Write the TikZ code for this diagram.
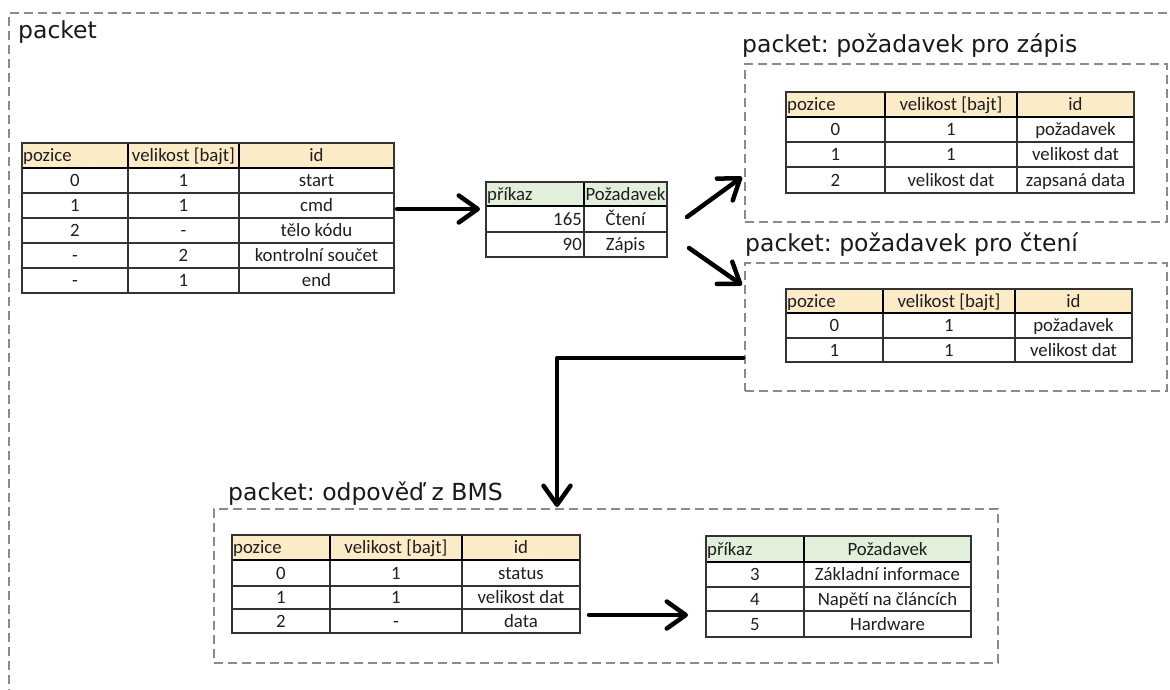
\documentclass[tikz,border=0pt]{standalone}
\usepackage{fontspec}
\setmainfont{Carlito}
\newfontfamily\titlefont{DejaVu Sans}
\usetikzlibrary{arrows.meta,calc}
\definecolor{hdrY}{HTML}{FCEBC7}
\definecolor{hdrG}{HTML}{E2EFDA}
\definecolor{dashgray}{HTML}{8A8A8A}
\frenchspacing
\begin{document}
\begin{tikzpicture}[x=1pt,y=-1pt,
 cell/.style={inner sep=0pt, text height=13.5pt, text depth=1.5pt, font=\fontsize{18.8}{21}\selectfont, text=black!88},
 title/.style={anchor=base west, inner sep=0pt, font=\titlefont\fontsize{23.5}{26}\selectfont, text=black!90},
 region/.style={draw=dashgray, line width=2pt, dash pattern=on 9pt off 5pt, inner sep=0pt, outer sep=0pt, anchor=north west},
 tbl/.style={inner sep=0pt, outer sep=0pt, anchor=north west},
 grid/.style={draw=black!80, line width=1.2pt},
 hdr/.style={draw=black, line width=2pt},
 arr/.style={line width=4.5pt, -{Straight Barb[length=19pt,width=27pt,round]}, line cap=round, line join=round}]
\useasboundingbox (0,0) rectangle (1170,689);
\fill[white] (0,0) rectangle (1170,689);

% regions
\node[region, minimum width=1220pt, minimum height=720pt] (outer) at (9,13) {};
\node[title] (touter) at (18,38) {packet};
\node[region, minimum width=422pt, minimum height=158pt] (zapis) at (745,64) {};
\node[title] (tzapis) at (742,52) {packet: požadavek pro zápis};
\node[region, minimum width=422pt, minimum height=128pt] (cteni) at (745,263) {};
\node[title] (tcteni) at (745,251) {packet: požadavek pro čtení};
\node[region, minimum width=784pt, minimum height=154pt] (bms) at (214,509) {};
\node[title] (tbms) at (228,500) {packet: odpověď z BMS};

% ---------- Table A
\node[tbl, minimum width=372pt, minimum height=150pt] (tA) at (22,143) {};
\fill[hdrY] (22,143) rectangle (394,168);
\draw[grid] (22,193) -- (394,193) (22,218) -- (394,218) (22,243) -- (394,243) (22,268) -- (394,268)
  (128,168) -- (128,293) (239,168) -- (239,293);
\draw[hdr] (22,143) rectangle (394,168) (128,143) -- (128,168) (239,143) -- (239,168);
\draw[grid] (tA.north west) rectangle (tA.south east);
\node[cell, anchor=west] (tA-h1) at (23,155.5) {pozice};
\node[cell] (tA-h2) at (183.5,155.5) {velikost [bajt]};
\node[cell] (tA-h3) at (316.5,155.5) {id};
\foreach \a/\b/\c [count=\i] in {0/1/start,1/1/cmd,2/-/tělo kódu,-/2/kontrolní součet,-/1/end}{
  \node[cell] (tA-\i-a) at (75,{155.5+25*\i}) {\a};
  \node[cell] (tA-\i-b) at (183.5,{155.5+25*\i}) {\b};
  \node[cell] (tA-\i-c) at (316.5,{155.5+25*\i}) {\c};
}

% ---------- Table B
\node[tbl, minimum width=181pt, minimum height=75pt] (tB) at (486,182) {};
\fill[hdrG] (486,182) rectangle (667,206);
\draw[grid] (486,232) -- (667,232) (584,206) -- (584,257);
\draw[hdr] (486,182) rectangle (667,206) (584,182) -- (584,206);
\draw[grid] (tB.north west) rectangle (tB.south east);
\node[cell, anchor=west] (tB-h1) at (487,194) {příkaz};
\node[cell] (tB-h2) at (625.5,194) {Požadavek};
\node[cell, anchor=east] (tB-1-a) at (582,219) {165};
\node[cell] (tB-1-b) at (625.5,219) {Čtení};
\node[cell, anchor=east] (tB-2-a) at (582,244.5) {90};
\node[cell] (tB-2-b) at (625.5,244.5) {Zápis};

% ---------- Table C
\node[tbl, minimum width=348pt, minimum height=101pt] (tC) at (786,92) {};
\fill[hdrY] (786,92) rectangle (1134,117);
\draw[grid] (786,142) -- (1134,142) (786,167) -- (1134,167) (885,117) -- (885,193) (1017,117) -- (1017,193);
\draw[hdr] (786,92) rectangle (1134,117) (885,92) -- (885,117) (1017,92) -- (1017,117);
\draw[grid] (tC.north west) rectangle (tC.south east);
\node[cell, anchor=west] (tC-h1) at (787,104.5) {pozice};
\node[cell] (tC-h2) at (951,104.5) {velikost [bajt]};
\node[cell] (tC-h3) at (1075.5,104.5) {id};
\foreach \a/\b/\c/\y [count=\i] in {0/1/požadavek/129.5,1/1/velikost dat/154.5,2/velikost dat/zapsaná data/180}{
  \node[cell] (tC-\i-a) at (835.5,\y) {\a};
  \node[cell] (tC-\i-b) at (951,\y) {\b};
  \node[cell] (tC-\i-c) at (1075.5,\y) {\c};
}

% ---------- Table D
\node[tbl, minimum width=346pt, minimum height=73pt] (tD) at (786,289) {};
\fill[hdrY] (786,289) rectangle (1132,313);
\draw[grid] (786,338) -- (1132,338) (883,313) -- (883,362) (1015,313) -- (1015,362);
\draw[hdr] (786,289) rectangle (1132,313) (883,289) -- (883,313) (1015,289) -- (1015,313);
\draw[grid] (tD.north west) rectangle (tD.south east);
\node[cell, anchor=west] (tD-h1) at (787,301) {pozice};
\node[cell] (tD-h2) at (949,301) {velikost [bajt]};
\node[cell] (tD-h3) at (1073.5,301) {id};
\foreach \a/\b/\c/\y [count=\i] in {0/1/požadavek/325.5,1/1/velikost dat/350}{
  \node[cell] (tD-\i-a) at (834.5,\y) {\a};
  \node[cell] (tD-\i-b) at (949,\y) {\b};
  \node[cell] (tD-\i-c) at (1073.5,\y) {\c};
}

% ---------- Table E
\node[tbl, minimum width=348pt, minimum height=98pt] (tE) at (232,535) {};
\fill[hdrY] (232,535) rectangle (580,560);
\draw[grid] (232,586) -- (580,586) (232,609) -- (580,609) (330,560) -- (330,633) (462,560) -- (462,633);
\draw[hdr] (232,535) rectangle (580,560) (330,535) -- (330,560) (462,535) -- (462,560);
\draw[grid] (tE.north west) rectangle (tE.south east);
\node[cell, anchor=west] (tE-h1) at (233,547.5) {pozice};
\node[cell] (tE-h2) at (396,547.5) {velikost [bajt]};
\node[cell] (tE-h3) at (521,547.5) {id};
\foreach \a/\b/\c/\y [count=\i] in {0/1/status/573,1/1/velikost dat/597.5,2/-/data/621}{
  \node[cell] (tE-\i-a) at (281,\y) {\a};
  \node[cell] (tE-\i-b) at (396,\y) {\b};
  \node[cell] (tE-\i-c) at (521,\y) {\c};
}

% ---------- Table F
\node[tbl, minimum width=265pt, minimum height=101pt] (tF) at (706,536) {};
\fill[hdrG] (706,536) rectangle (971,562);
\draw[grid] (706,587) -- (971,587) (706,611) -- (971,611) (804,562) -- (804,637);
\draw[hdr] (706,536) rectangle (971,562) (804,536) -- (804,562);
\draw[grid] (tF.north west) rectangle (tF.south east);
\node[cell, anchor=west] (tF-h1) at (707,549) {příkaz};
\node[cell] (tF-h2) at (887.5,549) {Požadavek};
\foreach \a/\b/\y [count=\i] in {3/Základní informace/574.5,4/Napětí na článcích/599,5/Hardware/624}{
  \node[cell] (tF-\i-a) at (755,\y) {\a};
  \node[cell] (tF-\i-b) at (887.5,\y) {\b};
}

% ---------- arrows
\coordinate (a1s) at (397,209);
\draw[arr] (a1s) -- ($(a1s -| tB.west)+(-6,0)$);
\coordinate (u1) at (687,217);
\coordinate (u2) at (742,177);
\draw[arr] (u1) -- (u2);
\coordinate (d1) at (689,248);
\coordinate (d2) at (742,285);
\draw[arr] (d1) -- (d2);
\coordinate (l1) at (743,358);
\coordinate (l2) at (557,507);
\draw[arr] (l1) -| (l2);
\coordinate (b1) at (589,615);
\draw[arr] (b1) -- ($(b1 -| tF.west)+(-18,0)$);
\end{tikzpicture}
\end{document}
